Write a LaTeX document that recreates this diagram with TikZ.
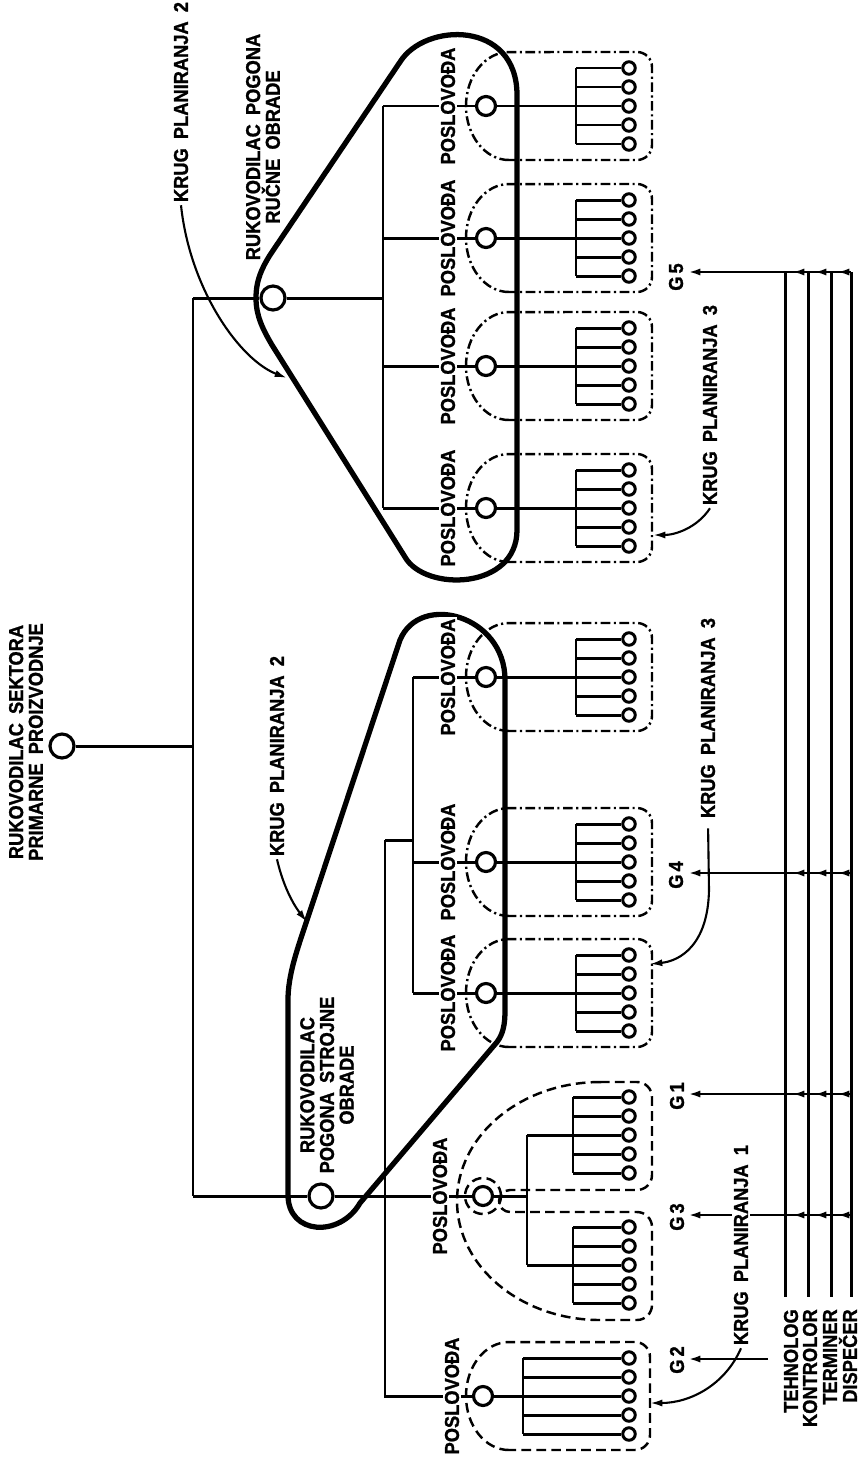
\documentclass[tikz,border=0pt]{standalone}
\usepackage{fontspec}
\setmainfont[WordSpace=1.8, BoldFeatures={FakeBold=1.2}]{Liberation Sans}
\usetikzlibrary{arrows.meta}

\begin{document}
\begin{tikzpicture}[
    x=0.02cm, y=-0.02cm,
    line width=1.7pt,
    boss/.style={circle, draw, line width=1.8pt, fill=white,
                 minimum size=0.48cm, inner sep=0pt},
    foreman/.style={circle, draw, line width=1.8pt, fill=white,
                    minimum size=0.38cm, inner sep=0pt},
    worker/.style={circle, draw, line width=1.7pt, fill=white,
                   minimum size=0.25cm, inner sep=0pt},
    lbl/.style={rotate=90, yscale=1.1, font=\fontsize{10.4}{10.2}\selectfont\bfseries,
                align=center, inner sep=1pt},
    blank/.style={lbl, fill=white},
    plantwo/.style={line width=3pt, line join=round},
    planthree/.style={line width=1.4pt, dash pattern=on 5.5pt off 2pt on 1.2pt off 2pt},
    planone/.style={line width=1.4pt, dash pattern=on 5.5pt off 3pt},
    pointer/.style={-{Latex[length=7pt, width=4pt]}, line width=1.2pt},
    feed/.style={-{Latex[length=7pt, width=4pt]}, line width=1.5pt}
  ]
    \useasboundingbox (0,0) rectangle (859,1458);

    % planning circles 2 (thick outlines)
    \draw[plantwo] (256,298) .. controls (256,280) and (262,268) .. (270,255)
      -- (400,62) .. controls (425,22) and (517,20) .. (517,95)
      -- (517,530) .. controls (517,590) and (425,592) .. (405,557)
      -- (272,345) .. controls (262,328) and (256,315) .. (256,298) -- cycle;
    \draw[plantwo] (288,1000) -- (288,1195) .. controls (288,1235) and (340,1238) .. (360,1203)
      -- (497,1042) .. controls (503,1034) and (505,1025) .. (505,1010)
      -- (505,680) .. controls (505,615) and (420,592) .. (400,640)
      -- (307,920) .. controls (297,950) and (288,975) .. (288,1000) -- cycle;

    % planning circles 3 (dash dot)
    \foreach \fy in {106,238,366,508,677,862,993}
      \draw[planthree] (509,\fy+54) arc[start angle=270, end angle=90, x radius=0.86cm, y radius=1.08cm]
        -- (637,\fy-54) arc[start angle=90, end angle=0, radius=0.3cm]
        -- (652,\fy+39) arc[start angle=0, end angle=-90, radius=0.3cm] -- cycle;

    % planning circles 1 (dashed)
    \draw[planone] (509,1450) arc[start angle=270, end angle=90, x radius=0.86cm, y radius=1.08cm]
      -- (635,1342) arc[start angle=90, end angle=0, radius=0.3cm]
      -- (650,1435) arc[start angle=0, end angle=-90, radius=0.3cm] -- cycle;
    \draw[planone] (600,1082) -- (637,1082) arc[start angle=90, end angle=0, radius=0.3cm]
      -- (652,1175) arc[start angle=0, end angle=-90, radius=0.3cm]
      -- (510,1190) arc[start angle=90, end angle=270, radius=0.22cm]
      -- (637,1212) arc[start angle=90, end angle=0, radius=0.3cm]
      -- (652,1305) arc[start angle=0, end angle=-90, radius=0.3cm]
      -- (600,1320) arc[start angle=270, end angle=90, x radius=2.86cm, y radius=2.38cm] -- cycle;

    % managers
    \node[boss] (root) at (62,746) {};
    \node[boss] (mgrU) at (273,298) {};
    \node[boss] (mgrL) at (321,1196) {};

    % foremen
    \foreach \g/\fy in {U1/106, U2/238, U3/366, U4/508, M1/677, M2/862, M3/993}
      \node[foreman] (f\g) at (486,\fy) {};
    \node[foreman] (fG) at (483,1196) {};
    \node[foreman] (fG2) at (483,1396) {};
    \draw[planone] (fG) circle[radius=0.36cm];

    % workers with their combs
    \foreach \g/\cy/\bx in {U1/106/576, U2/238/576, U3/366/576, U4/508/576,
                           M1/677/576, M2/862/576, M3/993/576,
                           G1/1135/573, G3/1265/573, G2/1396/523} {
      \foreach \k in {1,...,5} {
        \node[worker] (w\g\k) at (629,\cy+19*\k-57) {};
        \coordinate (b\g\k) at (\bx,\cy+19*\k-57);
        \draw (b\g\k) -- (w\g\k);
      }
      \draw (b\g1) -- (b\g5);
    }

    % main tree
    \coordinate (busT) at (193,298);
    \coordinate (busB) at (193,1196);
    \coordinate (jU) at (383,298);
    \coordinate (jL) at (385,1196);
    \coordinate (jM) at (413,840);
    \coordinate (jG) at (527,1196);
    \draw (root) -- (root -| busT);
    \draw (busT) -- (busB);
    \draw (busT) -- (mgrU) -- (jU);
    \draw (jU |- fU1) -- (jU |- fU4);
    \foreach \g in {U1,U2,U3,U4}
      \draw (jU |- f\g) -- (f\g) -- (w\g3);
    \draw (busB) -- (mgrL) -- (fG);
    \draw (jL |- jM) -- (jM);
    \draw (jL |- jM) -- (jL |- fG2) -- (fG2) -- (wG23);
    \draw (jM |- fM1) -- (jM |- fM3);
    \foreach \g in {M1,M2,M3}
      \draw (jM |- f\g) -- (f\g) -- (w\g3);
    \draw (fG) -- (jG);
    \draw (jG |- wG13) -- (jG |- wG33);
    \draw (jG |- wG13) -- (wG13);
    \draw (jG |- wG33) -- (wG33);

    % staff lines on the right
    \foreach \n/\x in {teh/785, kon/808, ter/831, dis/851} {
      \coordinate (top\n) at (\x,272);
      \coordinate (bot\n) at (\x,1297);
      \draw (top\n) -- (bot\n);
    }
    \foreach \r/\y in {5/272, 4/873, 1/1094, 3/1215} {
      \coordinate (g\r) at (688,\y);
      \draw[feed] (topdis |- g\r) -- (g\r);
      \draw[feed, shorten >=0.12cm] (topdis |- g\r) -- (topter |- g\r);
      \draw[feed, shorten >=0.12cm] (topter |- g\r) -- (topkon |- g\r);
      \draw[feed, shorten >=0.14cm] (topkon |- g\r) -- (topteh |- g\r);
    }
    \coordinate (g2s) at (768,1359);
    \coordinate (g2) at (688,1359);
    \draw[feed] (g2s) -- (g2);

    % texts
    \node[lbl] (roott) at (26,742) {RUKOVODILAC SEKTORA\\PRIMARNE PROIZVODNJE};
    \node[lbl] (mgrUt) at (263,147) {RUKOVODILAC POGONA\\RUČNE OBRADE};
    \node[lbl] (mgrLt) at (327,1085) {RUKOVODILAC\\POGONA STROJNE\\OBRADE};
    \foreach \g/\fy in {U1/106, U2/238, U3/366, U4/508, M1/677, M2/862, M3/993}
      \node[blank] (t\g) at (448,\fy) {POSLOVOĐA};
    \node[blank] (tG) at (440,1196) {POSLOVOĐA};
    \node[blank] (tG2) at (452,1396) {POSLOVOĐA};
    \node[lbl] (G5) at (676,277) {G\,5};
    \node[lbl] (G4) at (676,875) {G\,4};
    \node[lbl] (G1) at (677,1096) {G\,1};
    \node[lbl] (G3) at (677,1217) {G\,3};
    \node[lbl] (G2) at (677,1360) {G\,2};
    \node[lbl, anchor=east] (teh) at (791,1306) {TEHNOLOG};
    \node[lbl, anchor=east] (kon) at (810,1306) {KONTROLOR};
    \node[lbl, anchor=east] (ter) at (830,1306) {TERMINER};
    \node[lbl, anchor=east] (dis) at (848,1306) {DISPEČER};

    % planning circle labels
    \node[lbl] (k2u) at (181,102) {KRUG PLANIRANJA 2};
    \node[lbl] (k2l) at (277,756) {KRUG PLANIRANJA 2};
    \node[blank] (k3u) at (710,405) {KRUG PLANIRANJA 3};
    \node[lbl] (k3m) at (708,718) {KRUG PLANIRANJA 3};
    \node[blank] (k1) at (741,1245) {KRUG PLANIRANJA 1};

    \coordinate (k2utip) at (287,378);
    \coordinate (k2ltip) at (307,922);
    \coordinate (k3utip) at (653,535);
    \coordinate (k3mtip) at (650,964);
    \coordinate (k1tip) at (650,1403);
    \draw[pointer] (k2u.west) .. controls (190,290) and (240,360) .. (k2utip);
    \draw[pointer] (k2l.west) .. controls (284,890) and (296,908) .. (k2ltip);
    \draw[pointer] (k3u.west) .. controls (697,528) and (675,535) .. (k3utip);
    \draw[pointer, shorten <=4pt] (k3m.west) -- (709,890) .. controls (708,945) and (680,961) .. (k3mtip);
    \draw[pointer] (k1.west) .. controls (725,1385) and (690,1403) .. (k1tip);
  \end{tikzpicture}
\end{document}
